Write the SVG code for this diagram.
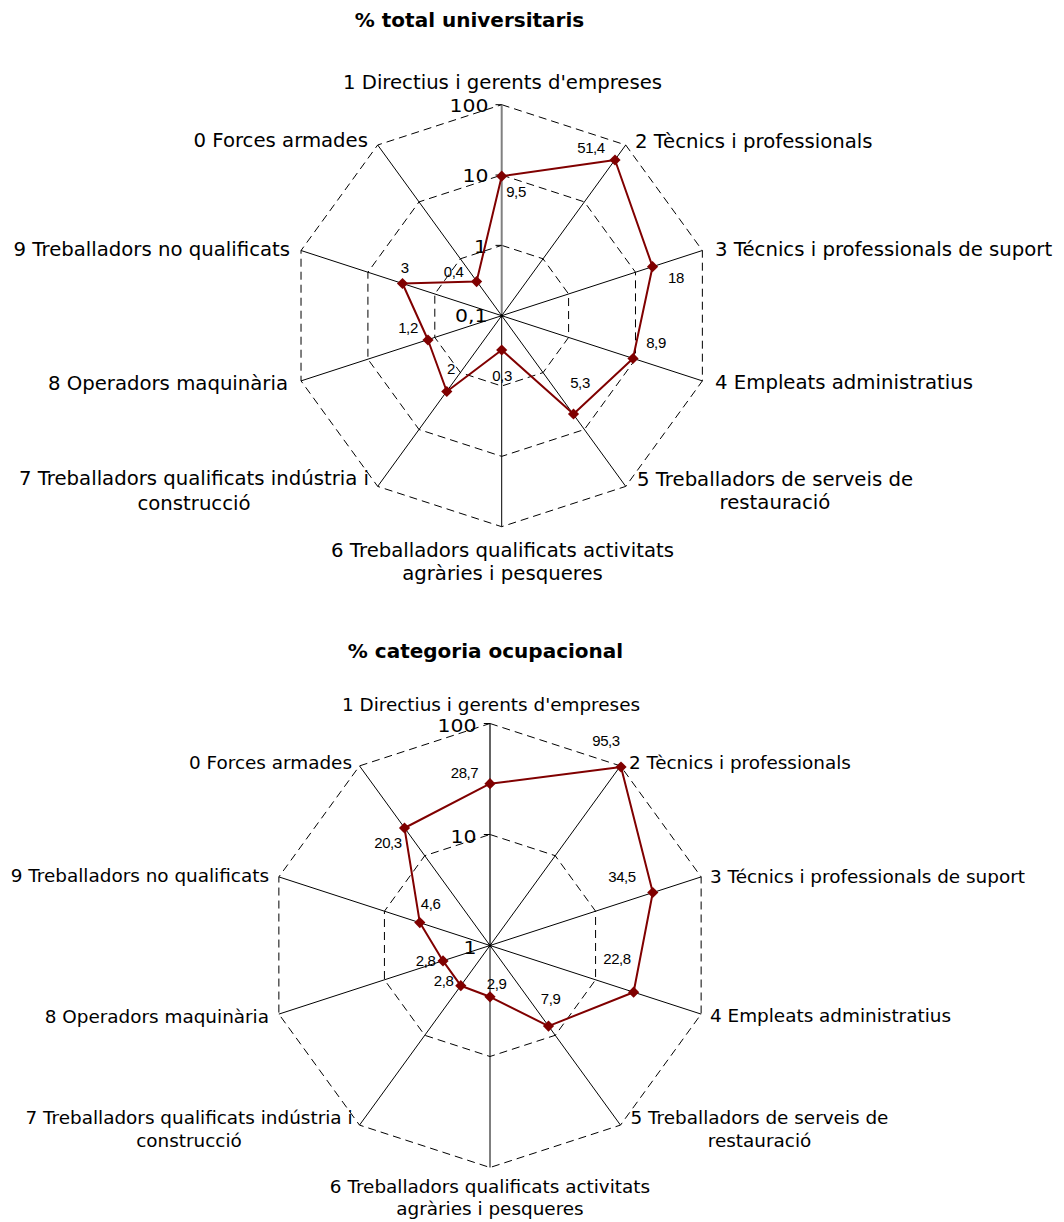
<svg xmlns="http://www.w3.org/2000/svg" xmlns:xlink="http://www.w3.org/1999/xlink" width="1064" height="1222" viewBox="0 0 1064 1222">
<style>
.title{font-family:"DejaVu Sans",Verdana,sans-serif;font-weight:bold;font-size:20px;fill:#000;text-anchor:middle}
.cat{font-family:"DejaVu Sans",Verdana,sans-serif;font-size:19.7px;fill:#000}
.cat2{font-family:"DejaVu Sans",Verdana,sans-serif;font-size:18.4px;fill:#000}
.mid{text-anchor:middle}
.end{text-anchor:end}
.val{font-family:"DejaVu Sans",Verdana,sans-serif;font-size:17px;fill:#000;text-anchor:end}
.dl{font-family:"Liberation Sans",Arial,sans-serif;font-size:15px;fill:#000;text-anchor:middle;letter-spacing:-0.4px}
.grid{fill:none;stroke:#000;stroke-width:1;stroke-dasharray:8 5}
.axis{stroke:#000;stroke-width:1;fill:none}
.vaxis1{stroke:#808080;stroke-width:2}
.vaxis2{stroke:#303030;stroke-width:1.5}
.tick{stroke:#000;stroke-width:1}
.series{fill:none;stroke:#800000;stroke-width:2;stroke-linejoin:round}
.mk{fill:#800000}
</style>
<defs>
<path id="dia" d="M0,-5.6 L5.6,0 L0,5.6 L-5.6,0 Z"/>
</defs>
<rect width="1064" height="1222" fill="#fff"/>

<!-- ================= CHART 1 ================= -->
<g id="chart1">
<text id="title1" class="title" x="469.5" y="26.7">% total universitaris</text>
<g id="chart1-grid">
<polygon class="grid" points="501.7,245.37 543.04,258.8 568.59,293.97 568.59,337.43 543.04,372.6 501.7,386.03 460.36,372.6 434.81,337.43 434.81,293.97 460.36,258.8"/>
<polygon class="grid" points="501.7,175.03 584.38,201.9 635.49,272.23 635.49,359.17 584.38,429.5 501.7,456.37 419.02,429.5 367.91,359.17 367.91,272.23 419.02,201.9"/>
<polygon class="grid" points="501.7,104.7 625.72,145 702.37,250.5 702.37,380.9 625.72,486.4 501.7,526.7 377.68,486.4 301.03,380.9 301.03,250.5 377.68,145"/>
</g>
<g id="chart1-axes">
<line class="axis" x1="501.7" y1="315.7" x2="625.72" y2="145"/>
<line class="axis" x1="501.7" y1="315.7" x2="702.37" y2="250.5"/>
<line class="axis" x1="501.7" y1="315.7" x2="702.37" y2="380.9"/>
<line class="axis" x1="501.7" y1="315.7" x2="625.72" y2="486.4"/>
<line class="axis" x1="501.7" y1="315.7" x2="501.7" y2="526.7"/>
<line class="axis" x1="501.7" y1="315.7" x2="377.68" y2="486.4"/>
<line class="axis" x1="501.7" y1="315.7" x2="301.03" y2="380.9"/>
<line class="axis" x1="501.7" y1="315.7" x2="301.03" y2="250.5"/>
<line class="axis" x1="501.7" y1="315.7" x2="377.68" y2="145"/>
<line class="vaxis1" x1="501.7" y1="315.7" x2="501.7" y2="104.7"/>
<line class="tick" x1="495.5" y1="104.7" x2="501.7" y2="104.7"/>
<line class="tick" x1="495.5" y1="175.03" x2="501.7" y2="175.03"/>
<line class="tick" x1="495.5" y1="245.37" x2="501.7" y2="245.37"/>
<circle cx="501.7" cy="315.7" r="1.6" fill="#000"/>
</g>
<g id="chart1-values">
<text class="val" transform="translate(488.5,112) scale(1.2,1)">100</text>
<text class="val" transform="translate(488.5,182) scale(1.2,1)">10</text>
<text class="val" transform="translate(487,253) scale(1.2,1)">1</text>
<text class="val" transform="translate(487.5,322) scale(1.2,1)">0,1</text>
</g>
<g id="chart1-series">
<polygon class="series" points="501.7,176.2 615,160 652.55,266.7 633,358.5 573.5,414 501.7,350 446.8,391.5 428,340 402.5,283.5 476.6,281.6"/>
<use href="#dia" xlink:href="#dia" class="mk" x="501.7" y="176.2"/>
<use href="#dia" xlink:href="#dia" class="mk" x="615" y="160"/>
<use href="#dia" xlink:href="#dia" class="mk" x="652.55" y="266.7"/>
<use href="#dia" xlink:href="#dia" class="mk" x="633" y="358.5"/>
<use href="#dia" xlink:href="#dia" class="mk" x="573.5" y="414"/>
<use href="#dia" xlink:href="#dia" class="mk" x="501.7" y="350"/>
<use href="#dia" xlink:href="#dia" class="mk" x="446.8" y="391.5"/>
<use href="#dia" xlink:href="#dia" class="mk" x="428" y="340"/>
<use href="#dia" xlink:href="#dia" class="mk" x="402.5" y="283.5"/>
<use href="#dia" xlink:href="#dia" class="mk" x="476.6" y="281.6"/>
</g>
<g id="chart1-datalabels">
<text class="dl" x="516" y="196.7">9,5</text>
<text class="dl" x="591" y="153.3" letter-spacing="-1.5">51,4</text>
<text class="dl" x="676" y="283" letter-spacing="-2.5">18</text>
<text class="dl" x="656" y="347.7">8,9</text>
<text class="dl" x="580" y="388.3">5,3</text>
<text class="dl" x="502" y="380.7">0,3</text>
<text class="dl" x="451" y="374">2</text>
<text class="dl" x="408" y="332.7" letter-spacing="-1.5">1,2</text>
<text class="dl" x="404.7" y="272.7">3</text>
<text class="dl" x="453.7" y="276.7">0,4</text>
</g>
<g id="chart1-categories">
<text class="cat mid" x="502.5" y="89">1 Directius i gerents d'empreses</text>
<text class="cat" x="635" y="148">2 Tècnics i professionals</text>
<text class="cat" x="715" y="256">3 Técnics i professionals de suport</text>
<text class="cat" x="715" y="389">4 Empleats administratius</text>
<text class="cat mid" x="775" y="486">5 Treballadors de serveis de</text>
<text class="cat mid" x="775" y="509">restauració</text>
<text class="cat mid" x="502.5" y="557">6 Treballadors qualificats activitats</text>
<text class="cat mid" x="502.5" y="580">agràries i pesqueres</text>
<text class="cat mid" x="194" y="485">7 Treballadors qualificats indústria i</text>
<text class="cat mid" x="194" y="510">construcció</text>
<text class="cat end" x="288" y="390">8 Operadors maquinària</text>
<text class="cat end" x="290" y="256">9 Treballadors no qualificats</text>
<text class="cat end" x="368" y="147">0 Forces armades</text>
</g>
</g>

<!-- ================= CHART 2 ================= -->
<g id="chart2">
<text id="title2" class="title" x="485.5" y="658">% categoria ocupacional</text>
<g id="chart2-grid">
<polygon class="grid" points="490,834.5 555.24,855.7 595.57,911.2 595.57,979.8 555.24,1035.3 490,1056.5 424.76,1035.3 384.43,979.8 384.43,911.2 424.76,855.7"/>
<polygon class="grid" points="490,723.5 620.49,765.9 701.14,876.9 701.14,1014.1 620.49,1125.1 490,1167.5 359.51,1125.1 278.86,1014.1 278.86,876.9 359.51,765.9"/>
</g>
<g id="chart2-axes">
<line class="axis" x1="490" y1="945.5" x2="620.49" y2="765.9"/>
<line class="axis" x1="490" y1="945.5" x2="701.14" y2="876.9"/>
<line class="axis" x1="490" y1="945.5" x2="701.14" y2="1014.1"/>
<line class="axis" x1="490" y1="945.5" x2="620.49" y2="1125.1"/>
<line class="axis" x1="490" y1="945.5" x2="490" y2="1167.5"/>
<line class="axis" x1="490" y1="945.5" x2="359.51" y2="1125.1"/>
<line class="axis" x1="490" y1="945.5" x2="278.86" y2="1014.1"/>
<line class="axis" x1="490" y1="945.5" x2="278.86" y2="876.9"/>
<line class="axis" x1="490" y1="945.5" x2="359.51" y2="765.9"/>
<line class="vaxis2" x1="490" y1="945.5" x2="490" y2="723.5"/>
<line class="tick" x1="483.8" y1="723.5" x2="490" y2="723.5"/>
<line class="tick" x1="483.8" y1="834.5" x2="490" y2="834.5"/>
<circle cx="490" cy="945.5" r="1.6" fill="#000"/>
</g>
<g id="chart2-values">
<text class="val" transform="translate(476.5,732) scale(1.2,1)">100</text>
<text class="val" transform="translate(476.5,843) scale(1.2,1)">10</text>
<text class="val" transform="translate(476.5,954) scale(1.2,1)">1</text>
</g>
<g id="chart2-series">
<polygon class="series" points="490,783.7 621,767 652.8,892.5 633.6,992.2 548.5,1026.1 490,996.8 460.8,985.7 443,960.9 419.8,922.6 404.5,828"/>
<use href="#dia" xlink:href="#dia" class="mk" x="490" y="783.7"/>
<use href="#dia" xlink:href="#dia" class="mk" x="621" y="767"/>
<use href="#dia" xlink:href="#dia" class="mk" x="652.8" y="892.5"/>
<use href="#dia" xlink:href="#dia" class="mk" x="633.6" y="992.2"/>
<use href="#dia" xlink:href="#dia" class="mk" x="548.5" y="1026.1"/>
<use href="#dia" xlink:href="#dia" class="mk" x="490" y="996.8"/>
<use href="#dia" xlink:href="#dia" class="mk" x="460.8" y="985.7"/>
<use href="#dia" xlink:href="#dia" class="mk" x="443" y="960.9"/>
<use href="#dia" xlink:href="#dia" class="mk" x="419.8" y="922.6"/>
<use href="#dia" xlink:href="#dia" class="mk" x="404.5" y="828"/>
</g>
<g id="chart2-datalabels">
<text class="dl" x="464.5" y="778.3">28,7</text>
<text class="dl" x="606" y="745.7">95,3</text>
<text class="dl" x="622" y="881.7">34,5</text>
<text class="dl" x="617" y="964.3">22,8</text>
<text class="dl" x="550.7" y="1004">7,9</text>
<text class="dl" x="496.7" y="989">2,9</text>
<text class="dl" x="443.7" y="986">2,8</text>
<text class="dl" x="425.7" y="966">2,8</text>
<text class="dl" x="430.7" y="909">4,6</text>
<text class="dl" x="388" y="847.7">20,3</text>
</g>
<g id="chart2-categories">
<text class="cat2 mid" x="491" y="710.5">1 Directius i gerents d'empreses</text>
<text class="cat2" x="629" y="769">2 Tècnics i professionals</text>
<text class="cat2" x="710" y="883">3 Técnics i professionals de suport</text>
<text class="cat2" x="710" y="1022">4 Empleats administratius</text>
<text class="cat2 mid" x="759.5" y="1124.3">5 Treballadors de serveis de</text>
<text class="cat2 mid" x="759.5" y="1146.7">restauració</text>
<text class="cat2 mid" x="490" y="1193">6 Treballadors qualificats activitats</text>
<text class="cat2 mid" x="490" y="1215">agràries i pesqueres</text>
<text class="cat2 mid" x="189" y="1124.3">7 Treballadors qualificats indústria i</text>
<text class="cat2 mid" x="189" y="1146.7">construcció</text>
<text class="cat2 end" x="269" y="1022.7">8 Operadors maquinària</text>
<text class="cat2 end" x="269" y="881.7">9 Treballadors no qualificats</text>
<text class="cat2 end" x="352" y="769.3">0 Forces armades</text>
</g>
</g>
</svg>
